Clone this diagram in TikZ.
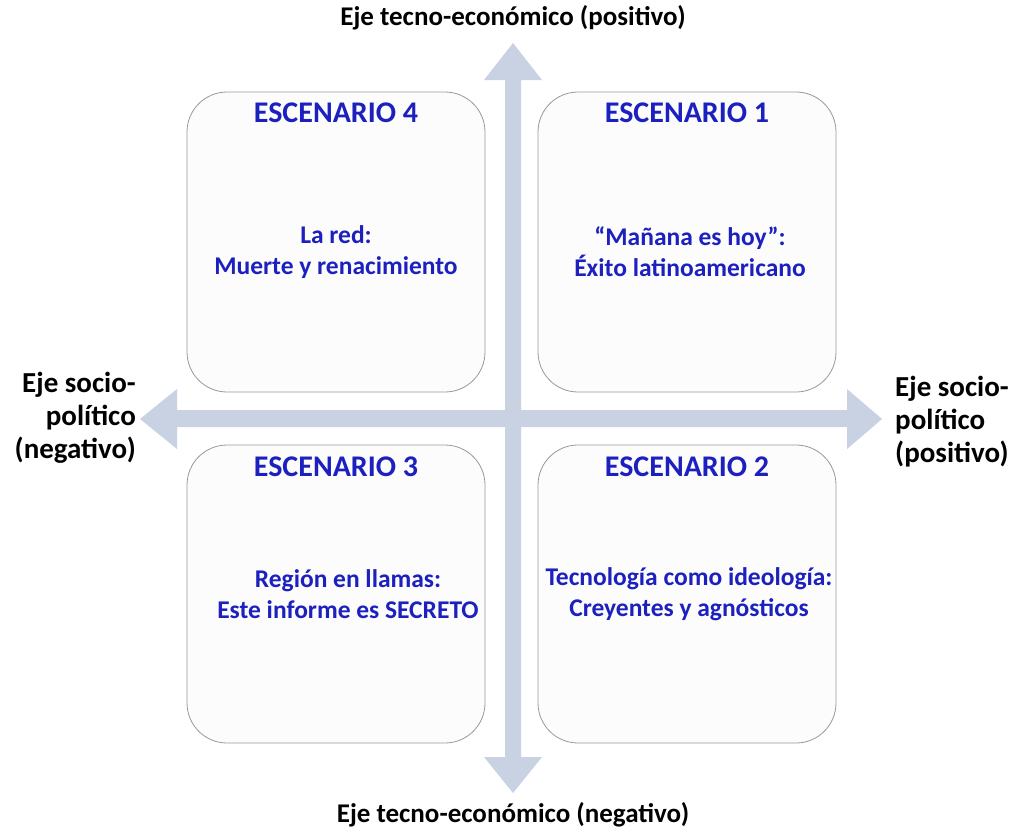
\documentclass[tikz,border=0pt]{standalone}
\usepackage{fontspec}
\setmainfont{Carlito}
\definecolor{axisblue}{RGB}{200,210,226}
\definecolor{txtblue}{RGB}{28,32,190}
\begin{document}
\begin{tikzpicture}[x=1pt,y=-1pt,
  scen/.style={draw=black!40, line width=0.8pt, fill=black!1, rounded corners=40pt},
  ttl/.style={text=txtblue, font=\bfseries\fontsize{30}{31}\selectfont, align=center, inner sep=0pt},
  body/.style={text=txtblue, font=\bfseries\fontsize{25.5}{31}\selectfont, align=center, inner sep=0pt},
  axlab/.style={text=black, font=\bfseries\fontsize{27}{33}\selectfont, inner sep=0pt},
  sidelab/.style={text=black, font=\bfseries\fontsize{29}{33}\selectfont, inner sep=0pt},
  axfill/.style={fill=axisblue, draw=none}]
\useasboundingbox (0,0) rectangle (1012,833);
% axes
\coordinate (O) at (513,418);
\fill[axfill] (505,80) -- (484,80) -- (513,43) -- (542,80) -- (521,80) -- (521,757) -- (542,757) -- (513,793) -- (484,757) -- (505,757) -- cycle;
\fill[axfill] (177,410) -- (177,389) -- (140,419) -- (177,449) -- (177,427) -- (847,427) -- (847,449) -- (882,419) -- (847,389) -- (847,410) -- cycle;
% boxes
\draw[scen] (187,92) rectangle (485,392);
\draw[scen] (538,92) rectangle (836,392);
\draw[scen] (187,445) rectangle (485,743);
\draw[scen] (538,445) rectangle (836,743);
% titles
\node[ttl] (t4) at (336,113) {ESCENARIO 4};
\node[ttl] (t1) at (687,113) {ESCENARIO 1};
\node[ttl] (t3) at (336,467) {ESCENARIO 3};
\node[ttl] (t2) at (687,467) {ESCENARIO 2};
% bodies
\node[body] (b4) at (336,252) {La red:\\Muerte y renacimiento};
\node[body] (b1) at (690,252) {“Mañana es hoy”:\\Éxito latinoamericano};
\node[body] (b3) at (348,594) {Región en llamas:\\Este informe es SECRETO};
\node[body] (b2) at (689,594) {Tecnología como ideología:\\Creyentes y agnósticos};
% axis labels
\node[axlab] (top) at (513,18) {Eje tecno-económico (positivo)};
\node[axlab] (bot) at (513,815) {Eje tecno-económico (negativo)};
\node[sidelab, align=right, anchor=east] (left) at (136,418) {Eje socio-\\político\\(negativo)};
\node[sidelab, align=left, anchor=west] (right) at (895,422) {Eje socio-\\político\\(positivo)};
\end{tikzpicture}
\end{document}
